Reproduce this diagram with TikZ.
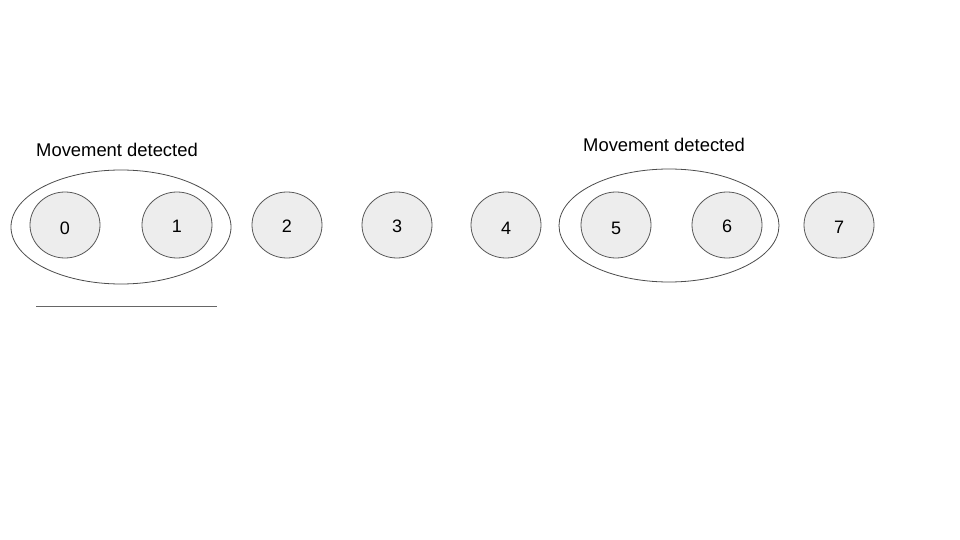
\documentclass[tikz,border=0pt]{standalone}
\usepackage{fontspec}
\setmainfont{Liberation Sans}
\usetikzlibrary{shapes.geometric}
\begin{document}
\begin{tikzpicture}[x=1pt,y=-1pt,
  cell/.style={ellipse, draw=black!65, fill=black!7, line width=0.8pt, minimum width=70pt, minimum height=66pt, inner sep=0pt},
  num/.style={inner sep=0pt, font=\fontsize{18}{20}\selectfont},
  group/.style={ellipse, draw=black!70, line width=0.8pt, minimum width=220pt, minimum height=114pt, inner sep=0pt},
  lbl/.style={inner sep=0pt, font=\fontsize{18.4}{20}\selectfont}]
\useasboundingbox[fill=white] (0,0) rectangle (960,540);
\node[group] (g1) at (121,227) {};
\node[group, minimum height=113pt] (g2) at (669,225.5) {};
\foreach \i/\x in {0/65,1/177,2/287,3/397,4/506,5/616,6/727,7/839}{
  \node[cell] (c\i) at (\x,225) {};
}
\node[num] (t0) at (65,228) {0};
\node[num] (t1) at (177,226) {1};
\node[num] (t2) at (287,226) {2};
\node[num] (t3) at (397,226) {3};
\node[num] (t4) at (506,228) {4};
\node[num] (t5) at (616,228) {5};
\node[num] (t6) at (727,226) {6};
\node[num] (t7) at (839,227) {7};
\node[lbl, anchor=base west] (m1) at (36,157) {Movement detected};
\node[lbl, anchor=base west] (m2) at (583,152) {Movement detected};
\coordinate (la) at (36,306);
\coordinate (lb) at (217,306);
\draw[black!60, line width=0.8pt] (la) -- (lb);
\end{tikzpicture}
\end{document}
